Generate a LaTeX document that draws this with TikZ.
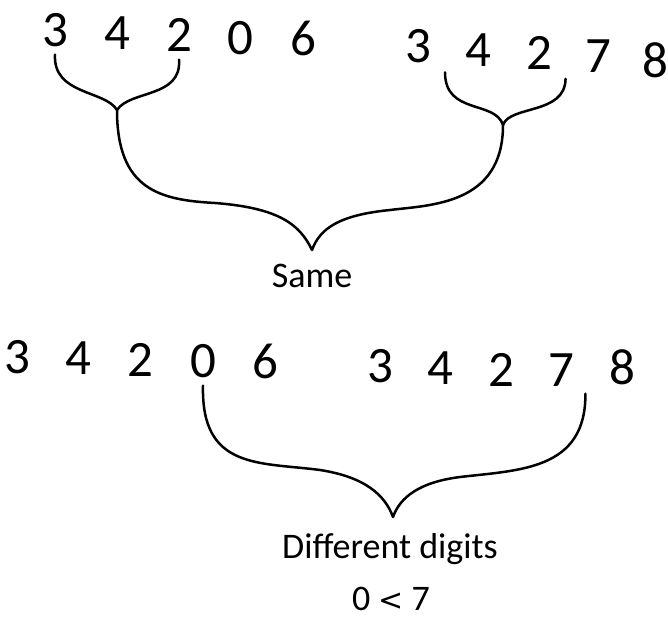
\documentclass[tikz,border=0pt]{standalone}
\usepackage{fontspec}
\setmainfont{Carlito}
\newfontfamily\symfont{DejaVu Sans}
\usetikzlibrary{calc}

\begin{document}
\begin{tikzpicture}[x=1pt, y=-1pt,
    digit/.style={font=\fontsize{51}{58}\selectfont, inner sep=0pt, outer sep=8pt},
    txt/.style={font=\fontsize{36}{43}\selectfont, inner sep=0pt, anchor=base},
    bracestroke/.style={line width=2.5pt, line cap=round, line join=round}]
    \useasboundingbox (0,0) rectangle (668,623);

    % First pair of numbers
    \foreach \d/\x/\y [count=\i] in {3/55/30, 4/117/33, 2/179/35, 0/240/38, 6/303/38}
        \node[digit] (a\i) at (\x,\y) {\d};
    \foreach \d/\x/\y [count=\i] in {3/418/46, 4/478/50, 2/539/53, 7/598/56, 8/655/60}
        \node[digit] (b\i) at (\x,\y) {\d};

    % Second pair of numbers
    \foreach \d/\x/\y [count=\i] in {3/17/357, 4/78/358, 2/140/360, 0/203/361, 6/265/361}
        \node[digit] (c\i) at (\x,\y) {\d};
    \foreach \d/\x/\y [count=\i] in {3/380/366, 4/440/368, 2/501/370, 7/561/370, 8/622/367}
        \node[digit] (d\i) at (\x,\y) {\d};

    % Labels
    \node[txt] (same) at (312,287) {Same};
    \node[txt] (diff) at (390,558) {Different digits};
    \node[txt] (cmp) at (391,610) {0 {\symfont\fontsize{30}{36}\selectfont <} 7};

    % Brace tips
    \coordinate (ltip) at (117,110);
    \coordinate (rtip) at (503,125);
    \coordinate (stip) at (312,250);
    \coordinate (dtip) at (393,517);
    \coordinate (rl) at ($(b1.south)!.45!(b2.south)$);
    \coordinate (rr) at ($(b3.south)!.45!(b4.south)$);
    \coordinate (dr) at ($(d4.south)!.4!(d5.south)$);

    % Small braces under the common prefix
    \draw[bracestroke] (a1.south) .. controls (53,95) and (105,90) .. (ltip)
        (a3.south) .. controls (182,98) and (130,90) .. (ltip);
    \draw[bracestroke] (rl) .. controls (445,115) and (495,100) .. (rtip)
        (rr) .. controls (565,115) and (510,105) .. (rtip);

    % Big brace joining both
    \draw[bracestroke] (ltip) .. controls (117,190) and (160,200) .. (215,203)
            .. controls (280,208) and (300,225) .. (stip)
        (rtip) .. controls (503,205) and (430,205) .. (390,210)
            .. controls (340,215) and (320,228) .. (stip);

    % Brace over the first different digits
    \draw[bracestroke] (c4.south) .. controls (201,470) and (260,462) .. (320,470)
            .. controls (365,477) and (385,495) .. (dtip)
        (dr) .. controls (586,470) and (520,470) .. (460,477)
            .. controls (420,482) and (400,497) .. (dtip);
\end{tikzpicture}
\end{document}
